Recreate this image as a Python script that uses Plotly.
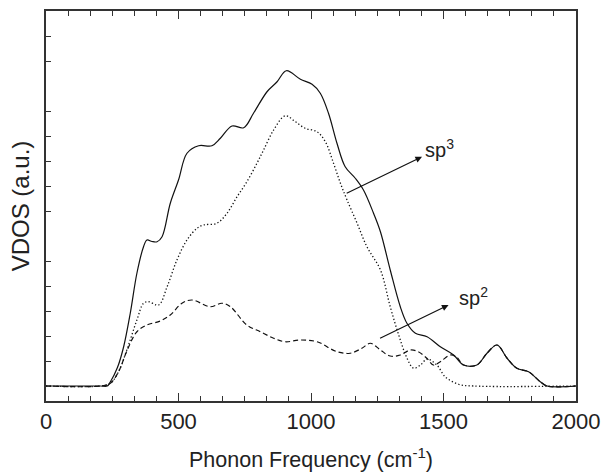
import plotly.graph_objects as go

# ---- data ----
total_x = [0, 205, 231, 243, 270, 293, 318, 343, 368, 381, 400, 419, 438, 469, 500, 532, 576, 626, 658,
           702, 746, 783, 834, 872, 907, 960, 1004, 1035, 1066, 1098, 1129, 1167, 1198, 1236, 1262,
           1299, 1337, 1362, 1394, 1438, 1488, 1538, 1576, 1626, 1664, 1702, 1740, 1777, 1821, 1865,
           1891, 2000]
total_y = [0, 0, 0, 0.17, 0.75, 1.57, 2.91, 4.51, 5.57, 5.84, 5.78, 5.77, 5.97, 7.31, 8.24, 9.31, 9.61,
           9.61, 9.91, 10.4, 10.33, 10.91, 11.77, 12.17, 12.61, 12.27, 12.07, 11.71, 10.91, 9.71,
           8.77, 8.31, 7.84, 6.91, 6.17, 4.64, 3.17, 2.51, 2.11, 1.97, 1.57, 1.24, 0.84, 0.84, 1.31,
           1.64, 1.11, 0.71, 0.57, 0.17, 0, 0]

sp3_x = [0, 205, 243, 275, 305, 343, 368, 387, 425, 457, 494, 532, 570, 595, 645, 683, 721, 758, 796,
         821, 859, 903, 941, 978, 1023, 1054, 1085, 1111, 1136, 1174, 1211, 1262, 1299, 1331, 1362,
         1387, 1413, 1438, 1475, 1507, 1557, 1614, 2000]
sp3_y = [0, 0, 0.11, 0.6, 1.44, 2.64, 3.31, 3.37, 3.24, 3.97, 5.04, 5.84, 6.31, 6.44, 6.51, 6.91, 7.57,
         8.17, 8.91, 9.44, 10.24, 10.81, 10.57, 10.31, 10.17, 9.77, 8.91, 8.11, 7.44, 6.51, 5.57,
         4.64, 3.17, 2.04, 1.12, 0.71, 0.84, 1.08, 0.84, 0.36, 0.07, 0, 0]

sp2_x = [0, 205, 243, 275, 305, 343, 381, 431, 469, 513, 551, 620, 664, 696, 758, 809, 859, 903, 960,
         1023, 1098, 1148, 1192, 1224, 1262, 1299, 1337, 1375, 1405, 1438, 1462, 1488, 1526, 1550,
         1576, 1626, 1664, 1702, 1740, 1777, 1821, 1865, 1891, 2000]
sp2_y = [0, 0, 0.11, 0.6, 1.40, 2.17, 2.44, 2.60, 2.84, 3.31, 3.44, 3.17, 3.31, 3.17, 2.44, 2.17, 1.91,
         1.77, 1.84, 1.77, 1.37, 1.31, 1.51, 1.71, 1.44, 1.20, 1.24, 1.44, 1.37, 1.10, 0.84, 0.97,
         1.24, 1.15, 0.84, 0.84, 1.31, 1.64, 1.11, 0.71, 0.57, 0.17, 0, 0]

x_tickvals = [0, 500, 1000, 1500, 2000]
y_tickvals = [1, 2, 3, 4, 5, 7, 8, 9, 10, 11, 13, 14]

FONT = "Liberation Sans, Arial, Helvetica, sans-serif"
INK = "#222222"

fig = go.Figure()
fig.add_trace(go.Scatter(x=total_x, y=total_y, mode="lines",
                         line=dict(color="#111111", width=1.2, shape="spline", smoothing=1.0)))
fig.add_trace(go.Scatter(x=sp3_x, y=sp3_y, mode="lines",
                         line=dict(color="#111111", width=1.3, dash="1.3px,2.2px", shape="spline", smoothing=1.0)))
fig.add_trace(go.Scatter(x=sp2_x, y=sp2_y, mode="lines",
                         line=dict(color="#111111", width=1.2, dash="5px,3px", shape="spline", smoothing=1.0)))

# arrows (tail -> head)
fig.add_annotation(x=1419, y=9.17, ax=1129, ay=7.68, xref="x", yref="y", axref="x", ayref="y",
                   text="", showarrow=True, arrowhead=2, arrowsize=1.1, arrowwidth=1.2, arrowcolor="#111111")
fig.add_annotation(x=1519, y=3.24, ax=1255, ay=1.88, xref="x", yref="y", axref="x", ayref="y",
                   text="", showarrow=True, arrowhead=2, arrowsize=1.1, arrowwidth=1.2, arrowcolor="#111111")
fig.add_annotation(x=1422, y=9.5, text="sp<sup>3</sup>", showarrow=False, xanchor="left", yanchor="middle",
                   font=dict(family=FONT, size=20, color=INK))
fig.add_annotation(x=1552, y=3.6, text="sp<sup>2</sup>", showarrow=False, xanchor="left", yanchor="middle",
                   font=dict(family=FONT, size=20, color=INK))

fig.update_layout(
    width=603, height=476,
    margin=dict(l=46, r=27, t=11, b=75, autoexpand=False),
    paper_bgcolor="white", plot_bgcolor="white",
    showlegend=False,
    font=dict(family=FONT, color=INK, size=22),
)
fig.update_xaxes(
    range=[0, 2000], tickvals=x_tickvals, ticktext=[str(v) for v in x_tickvals],
    ticks="inside", ticklen=8, tickwidth=1.3, tickcolor="#333333",
    showline=True, linewidth=1.5, linecolor="#333333", mirror="ticks",
    showgrid=False, zeroline=False, automargin=False,
    tickfont=dict(family=FONT, size=22, color=INK),
    minor=dict(dtick=500 / 6, tick0=0, ticks="inside", ticklen=5, tickwidth=1.2, tickcolor="#333333", showgrid=False),
    title=dict(text="Phonon Frequency (cm<sup>-1</sup>)", font=dict(family=FONT, size=21.5, color=INK), standoff=19),
)
fig.update_yaxes(
    range=[-0.6, 15.0], tickvals=y_tickvals, showticklabels=False,
    ticks="inside", ticklen=5, tickwidth=1.3, tickcolor="#333333",
    showline=True, linewidth=1.5, linecolor="#333333", mirror=True,
    showgrid=False, zeroline=False, automargin=False,
    title=dict(text="VDOS (a.u.)\u00a0\u00a0\u00a0", font=dict(family=FONT, size=24, color=INK), standoff=8),
)

fig.write_html("out.html", config={"displayModeBar": False},
               post_script="document.body.style.margin='0';document.body.style.overflow='hidden';")
